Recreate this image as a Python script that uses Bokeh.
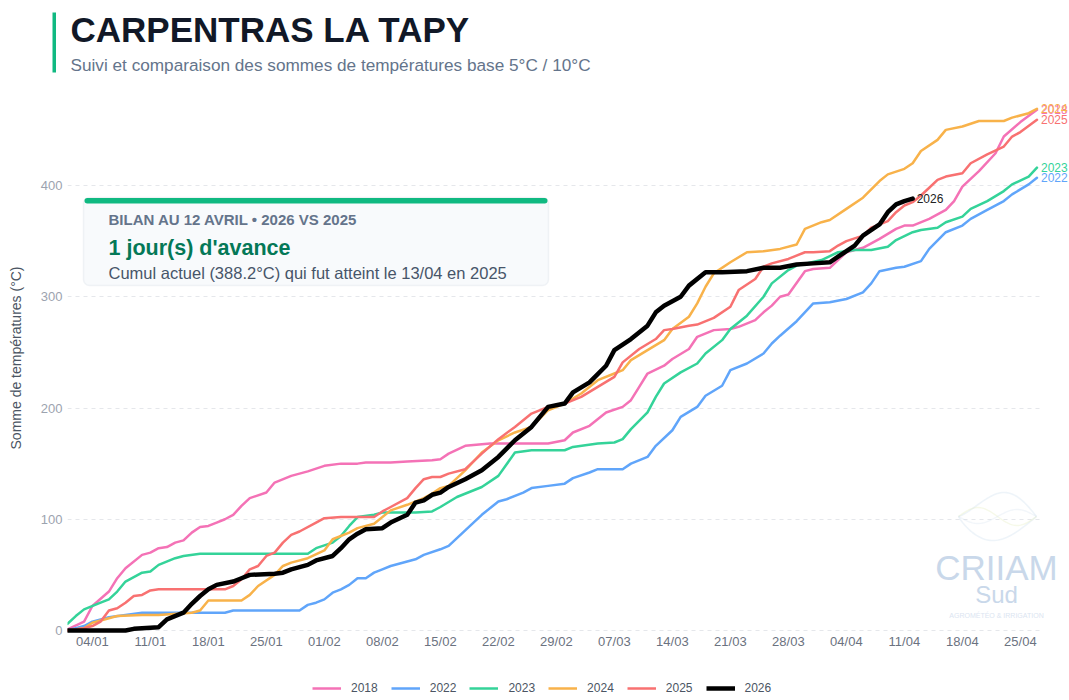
from datetime import datetime, timedelta
import numpy as np
from bokeh.plotting import figure
from bokeh.layouts import column
from bokeh.models import (ColumnDataSource, FixedTicker, DatetimeTickFormatter, Label,
                          BoxAnnotation, Legend, LegendItem, Range1d, PolyAnnotation)
from bokeh.embed import file_html
from bokeh.resources import INLINE

# ---------------- data (day offset from 1 January, cumulative °C) ----------------
jours_2018 = [0,2,3,5,6,7,9,10,11,12,13,14,15,16,17,18,19,20,21,22,24,25,27,29,31,33,35,36,39,41,
              44,45,46,48,51,55,58,60,61,63,65,67,68,69,70,72,73,75,76,78,80,81,83,84,85,86,87,89,90,92,
              94,96,98,100,101,102,104,106,107,108,110,112,113,115,117]
vals_2018 = [1,8,22,35,47,56,68,70,74,75,79,81,88,93,94,97,100,104,112,119,124,133,139,143,148,150,150,151,151,152,
             153,154,159,166,168,168,168,171,178,184,196,201,207,219,231,238,244,253,264,270,271,273,279,286,292,300,302,323,325,326,
             340,344,352,361,364,364,370,378,386,399,413,429,444,457,468]

jours_2022 = [0,2,3,5,7,9,19,20,28,29,30,31,32,33,34,35,36,37,38,39,41,42,43,45,46,48,50,52,53,55,
              56,58,60,61,63,64,67,68,70,71,73,74,76,77,79,80,82,84,85,86,88,90,92,94,96,97,98,100,101,103,
              104,106,108,109,111,113,114,116,117]
vals_2022 = [0,4,8,12,14,16,16,18,18,23,25,28,34,37,41,47,47,52,55,58,62,64,68,73,76,90,104,116,118,124,
             128,130,132,137,142,145,145,150,156,166,180,192,201,211,220,234,240,249,258,265,278,294,295,298,304,312,323,326,327,332,
             343,358,364,370,378,386,392,401,407]

jours_2023 = [0,1,2,4,5,6,7,9,10,11,13,14,16,29,30,32,33,34,35,37,38,42,44,45,47,50,52,54,56,60,
              61,64,66,67,68,70,71,72,74,76,77,79,80,82,84,85,87,88,91,93,95,97,99,100,102,103,105,106,108,109,
              111,113,114,116,117]
vals_2023 = [6,13,19,25,28,35,44,52,53,59,65,67,69,69,74,79,85,94,102,104,106,106,107,111,120,129,139,160,162,162,
             165,168,169,172,181,196,210,222,232,240,249,261,271,283,300,312,324,328,333,340,342,342,345,351,358,360,362,367,372,379,
             386,395,401,408,416]

jours_2024 = [0,2,3,5,6,9,11,15,16,17,21,22,23,25,26,27,29,31,32,34,35,37,39,41,43,44,45,46,48,50,
              52,54,56,58,60,62,64,66,67,68,70,72,73,75,76,77,78,80,82,84,86,88,89,91,92,94,96,98,99,101,
              102,103,105,106,108,110,113,114,116,117]
vals_2024 = [0,2,7,11,13,14,14,16,18,27,27,32,40,50,58,61,65,72,82,88,92,96,108,113,119,123,128,130,144,160,
             171,178,183,198,204,213,225,231,234,243,252,261,271,282,294,309,321,331,340,341,343,347,361,367,369,379,389,404,410,415,
             420,431,441,450,453,458,458,461,465,469]

jours_2025 = [0,2,3,4,5,6,7,8,9,10,11,19,20,21,22,23,24,25,26,27,28,30,31,33,37,38,39,41,42,43,
              44,45,46,48,50,52,54,56,58,60,62,64,66,67,69,71,72,73,75,76,78,80,81,83,84,85,87,89,90,92,
              93,94,96,97,99,100,101,102,103,104,105,106,108,109,111,113,114,115,117]
vals_2025 = [0,2,4,8,18,20,25,31,32,36,37,37,40,46,55,58,67,70,79,86,89,97,101,102,102,107,111,119,128,136,
             138,138,141,145,159,172,183,195,201,204,210,219,228,241,253,262,270,271,274,275,281,291,306,316,327,330,334,340,340,341,
             346,350,355,362,368,376,382,385,391,398,405,408,411,420,428,435,444,448,459]

jours_2026 = [0,7,8,10,11,12,14,15,16,17,18,20,21,22,25,26,27,29,30,32,33,34,35,36,38,39,41,42,43,44,
              45,46,48,50,52,54,56,58,60,61,63,65,66,68,70,71,72,74,75,77,79,82,84,86,88,90,92,93,95,96,
              98,99,100,101,102]
vals_2026 = [0,0,1.5,2.4,3,10,16,24,31,37,41,44,47,50,51,52,55,59,63,67,74,82,87,91,92,97,104,115,117,122,
             124,129,136,144,156,171,183,201,204,214,223,238,252,262,274,286,292,300,310,322,322,323,326,326,329,330,331,336,346,355,
             365,376,383,386,388.2]

annees = ["2018", "2022", "2023", "2024", "2025", "2026"]
couleurs = ["#f472b6", "#60a5fa", "#34d399", "#f8b24a", "#f87171", "#000000"]
series_jours = [jours_2018, jours_2022, jours_2023, jours_2024, jours_2025, jours_2026]
series_vals = [vals_2018, vals_2022, vals_2023, vals_2024, vals_2025, vals_2026]

y_ticks = [0, 100, 200, 300, 400]
x_tick_first = "04/01"
x_tick_step_days = 7
x_tick_count = 17

titre = "CARPENTRAS LA TAPY"
sous_titre = "Suivi et comparaison des sommes de températures base 5°C / 10°C"
bilan_titre = "BILAN AU 12 AVRIL • 2026 VS 2025"
bilan_avance = "1 jour(s) d'avance"
bilan_detail = "Cumul actuel ({:.1f}°C) qui fut atteint le 13/04 en 2025".format(vals_2026[-1])

# ---------------- helpers ----------------
BASE = datetime(2024, 1, 1)
EPOCH = datetime(1970, 1, 1)


def ms(day_offset):
    return ((BASE + timedelta(days=day_offset)) - EPOCH).total_seconds() * 1000.0


FONT = "Liberation Sans"
W = 1068
HEAD_H = 82             # header strip (page y 0..82)
FRAME_BOTTOM = 633      # page y of the main frame bottom
MAIN_MB = 22
MAIN_ML = 67
LEG_H = 44
PX_PER_UNIT = 1.1125
PX_PER_DAY = 8.286


def strip_fig(height, xr, yr):
    f = figure(width=W, height=height, output_backend="svg", toolbar_location=None,
               x_range=xr, y_range=yr, x_axis_location=None, y_axis_location=None,
               min_border=0, min_border_left=0, min_border_right=0, min_border_top=0, min_border_bottom=0)
    f.frame_align = False
    f.outline_line_color = None
    f.grid.visible = False
    return f


# ---------------- header figure ----------------
head = strip_fig(HEAD_H, Range1d(0, W), Range1d(HEAD_H, 0))
head.add_layout(BoxAnnotation(left=52, right=55.5, top=12, bottom=72,
                              fill_color="#10b981", fill_alpha=1, line_alpha=0))
head.add_layout(Label(x=70, y=29, text=titre, text_font=FONT, text_font_size="35px",
                      text_font_style="bold", text_color="#111827", text_baseline="middle"))
head.add_layout(Label(x=70, y=64.5, text=sous_titre, text_font=FONT, text_font_size="17.2px",
                      text_color="#64748b", text_baseline="middle"))

# ---------------- main figure ----------------
frame_h = FRAME_BOTTOM - HEAD_H
frame_w = W - MAIN_ML
y0 = -3 / PX_PER_UNIT
y1 = y0 + frame_h / PX_PER_UNIT

p = figure(width=W, height=frame_h + MAIN_MB, output_backend="svg", toolbar_location=None,
           x_axis_type="datetime",
           x_range=Range1d(ms(0), ms(frame_w / PX_PER_DAY)),
           y_range=Range1d(y0, y1),
           min_border_left=MAIN_ML, min_border_right=0, min_border_top=0, min_border_bottom=MAIN_MB)
p.frame_align = False
p.outline_line_color = None
p.background_fill_color = "white"
p.border_fill_color = "white"


def fx(px):
    return px - MAIN_ML


def fy(py):
    return FRAME_BOTTOM - py


last_day = max(max(j) for j in series_jours)

# grid
p.xgrid.grid_line_color = None
grid_ok = True
try:
    p.ygrid.cross_bounds = (ms(0), ms(last_day + 0.3))
except Exception:
    grid_ok = False
if grid_ok:
    p.ygrid.grid_line_color = "#e5e7eb"
    p.ygrid.grid_line_dash = "4 4"
    p.ygrid.grid_line_width = 1
else:
    p.ygrid.grid_line_color = None
    p.segment(x0=[ms(0)] * len(y_ticks), x1=[ms(last_day + 0.3)] * len(y_ticks), y0=y_ticks, y1=y_ticks,
              line_color="#e5e7eb", line_dash="4 4", line_width=1)

# y axis
p.yaxis.ticker = FixedTicker(ticks=y_ticks)
p.yaxis.axis_line_color = None
p.yaxis.major_tick_line_color = None
p.yaxis.minor_tick_line_color = None
p.yaxis.major_tick_out = 0
p.yaxis.major_tick_in = 0
p.yaxis.major_label_text_font = FONT
p.yaxis.major_label_text_font_size = "13px"
p.yaxis.major_label_text_color = "#9ca3af"
p.yaxis.major_label_standoff = 5
p.yaxis.axis_label = "Somme de températures (°C)"
p.yaxis.axis_label_text_font = FONT
p.yaxis.axis_label_text_font_size = "14px"
p.yaxis.axis_label_text_font_style = "normal"
p.yaxis.axis_label_text_color = "#4b5563"
p.yaxis.axis_label_standoff = 14

# x axis
d_first, m_first = [int(t) for t in x_tick_first.split("/")]
first_off = (datetime(2024, m_first, d_first) - BASE).days
p.xaxis.ticker = FixedTicker(ticks=[ms(first_off + k * x_tick_step_days) for k in range(x_tick_count)])
p.xaxis.formatter = DatetimeTickFormatter(days="%d/%m", months="%d/%m", hours="%d/%m", years="%d/%m")
p.xaxis.axis_line_color = None
p.xaxis.major_tick_line_color = None
p.xaxis.minor_tick_line_color = None
p.xaxis.major_tick_out = 0
p.xaxis.major_tick_in = 0
p.xaxis.major_label_text_font = FONT
p.xaxis.major_label_text_font_size = "13px"
p.xaxis.major_label_text_color = "#6b7280"
p.xaxis.major_label_standoff = 0

# info box
p.add_layout(BoxAnnotation(left=fx(83), right=fx(548), top=fy(197), bottom=fy(285),
                           left_units="screen", right_units="screen", top_units="screen", bottom_units="screen",
                           fill_color="#f8fafc", fill_alpha=1, line_color="#d3dbe5", line_width=1.5,
                           border_radius=6))
p.add_layout(BoxAnnotation(left=fx(84), right=fx(547), top=fy(197.5), bottom=fy(203),
                           left_units="screen", right_units="screen", top_units="screen", bottom_units="screen",
                           fill_color="#10b981", fill_alpha=1, line_alpha=0, border_radius=3))
p.add_layout(Label(x=fx(108), y=fy(219), x_units="screen", y_units="screen", text=bilan_titre,
                   text_font=FONT, text_font_size="15px", text_font_style="bold",
                   text_color="#64748b", text_baseline="middle"))
p.add_layout(Label(x=fx(108), y=fy(247), x_units="screen", y_units="screen", text=bilan_avance,
                   text_font=FONT, text_font_size="21.5px", text_font_style="bold",
                   text_color="#047857", text_baseline="middle"))
p.add_layout(Label(x=fx(108), y=fy(272), x_units="screen", y_units="screen", text=bilan_detail,
                   text_font=FONT, text_font_size="16.5px",
                   text_color="#475569", text_baseline="middle"))

# watermark logo
t = np.linspace(0, 1, 40)
x_logo = 958 + 78 * t
up = 516 - 24 * np.sin(np.pi * t ** 1.3)
lo = 516 + 24 * np.sin(np.pi * t ** 0.85)
wave = 516 - 9 * np.sin(2 * np.pi * t)
wave2 = 516 + 7 * np.sin(2 * np.pi * t)
for curve, col, lw in ((up, "#c8daec", 1.6), (lo, "#c8daec", 1.6), (wave, "#e2ebb6", 1.4), (wave2, "#d3e2f0", 1.4)):
    xs = list(fx(x_logo)) + list(fx(x_logo[::-1]))
    ys = list(fy(curve)) + list(fy(curve[::-1]))
    p.add_layout(PolyAnnotation(xs=xs, ys=ys, xs_units="screen", ys_units="screen",
                                fill_alpha=0, line_color=col, line_width=lw))
p.add_layout(Label(x=fx(996), y=fy(567), x_units="screen", y_units="screen", text="CRIIAM",
                   text_font=FONT, text_font_size="35px", text_color="#c9d8ea",
                   text_align="center", text_baseline="middle"))
p.add_layout(Label(x=fx(996), y=fy(594), x_units="screen", y_units="screen", text="Sud",
                   text_font=FONT, text_font_size="24px", text_color="#c9d8ea",
                   text_align="center", text_baseline="middle"))
p.add_layout(Label(x=fx(996), y=fy(615), x_units="screen", y_units="screen", text="AGROMÉTÉO & IRRIGATION",
                   text_font=FONT, text_font_size="7px", text_color="#dbe5f1",
                   text_align="center", text_baseline="middle"))

# lines
for an, col, jj, vv in zip(annees, couleurs, series_jours, series_vals):
    src = ColumnDataSource(dict(x=[ms(j) for j in jj], y=vv))
    lw = 4.5 if an == "2026" else 2.5
    p.line("x", "y", source=src, line_color=col, line_width=lw, line_join="round", line_cap="round")

# end labels
for an, col, jj, vv in zip(annees, couleurs, series_jours, series_vals):
    p.add_layout(Label(x=ms(jj[-1]), y=vv[-1], text=an, x_offset=4,
                       text_font=FONT, text_font_size="12px",
                       text_color="#222222" if an == "2026" else col,
                       text_baseline="middle", text_align="left"))

# ---------------- legend strip ----------------
leg = strip_fig(LEG_H, Range1d(0, 1), Range1d(0, 1))
items = []
for an, col in zip(annees, couleurs):
    lw = 4.5 if an == "2026" else 2.5
    r = leg.line(x=[np.nan], y=[np.nan], line_color=col, line_width=lw)
    items.append(LegendItem(label=an, renderers=[r]))
legend = Legend(items=items, orientation="horizontal", location=(312, 4),
                padding=0, margin=0, spacing=13, glyph_width=29, glyph_height=14,
                label_standoff=10, label_text_font=FONT, label_text_font_size="12px",
                label_text_color="#4b5563", border_line_alpha=0, background_fill_alpha=0)
leg.add_layout(legend)

layout = column(head, p, leg, spacing=0)
open("out.html", "w").write(file_html(layout, INLINE))
